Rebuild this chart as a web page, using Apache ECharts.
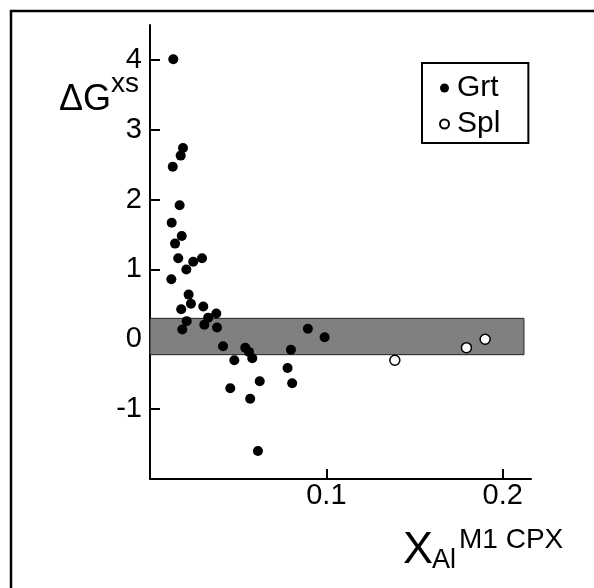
<!DOCTYPE html>
<html>
<head>
<meta charset="utf-8">
<script src="https://cdn.jsdelivr.net/npm/echarts@6/dist/echarts.min.js"></script>
<style>
  html, body { margin: 0; padding: 0; background: #fff; }
  #chart { width: 594px; height: 588px; }
</style>
</head>
<body>
<div id="chart"></div>
<script>
// Grt points (filled) and Spl points (open)
var grtX = [0.0132, 0.0187, 0.0174, 0.0129, 0.0168, 0.0123, 0.0180, 0.0142, 0.0160, 0.0245,
            0.0295, 0.0206, 0.0121, 0.0219, 0.0232, 0.0177, 0.0302, 0.0376, 0.0330, 0.0208,
            0.0308, 0.0183, 0.0380, 0.0895, 0.0990, 0.0414, 0.0540, 0.0561, 0.0799, 0.0478,
            0.0580, 0.0780, 0.0622, 0.0806, 0.0455, 0.0568, 0.0612];
var grtY = [4.01, 2.74, 2.63, 2.47, 1.92, 1.67, 1.48, 1.37, 1.16, 1.11,
            1.16, 1.00, 0.86, 0.64, 0.51, 0.43, 0.47, 0.37, 0.31, 0.26,
            0.21, 0.14, 0.17, 0.15, 0.03, -0.10, -0.12, -0.18, -0.15, -0.30,
            -0.27, -0.41, -0.60, -0.63, -0.70, -0.85, -1.60];
var splX = [0.1388, 0.1794, 0.1900];
var splY = [-0.30, -0.12, 0.00];

// grey band
var bandX = [0, 0.212];
var bandY = [-0.22, 0.30];

var yTicks = [-1, 0, 1, 2, 3, 4];
var xTicks = [0.1, 0.2];

var FONT = "'Liberation Sans', Arial, sans-serif";

function zip(a, b) {
  return a.map(function (v, i) { return [v, b[i]]; });
}

var chart = echarts.init(document.getElementById('chart'));
chart.setOption({
  animation: false,
  backgroundColor: '#fff',
  grid: { left: 150, right: 63, top: 25, bottom: 109, outerBoundsMode: 'none' },
  xAxis: {
    type: 'value',
    min: 0,
    max: 0.216,
    splitLine: { show: false },
    axisLine: { show: true, onZero: false, lineStyle: { color: '#000', width: 2 } },
    axisTick: { show: true, inside: true, length: 10, customValues: xTicks, lineStyle: { color: '#000', width: 2 } },
    axisLabel: { customValues: xTicks, margin: 2, color: '#000', fontSize: 29, fontFamily: FONT }
  },
  yAxis: {
    type: 'value',
    min: -2,
    max: 4.5,
    splitLine: { show: false },
    axisLine: { show: true, onZero: false, lineStyle: { color: '#000', width: 2 } },
    axisTick: { show: true, inside: true, length: 10, customValues: yTicks, lineStyle: { color: '#000', width: 2 } },
    axisLabel: { customValues: yTicks, margin: 8, color: '#000', fontSize: 29, fontFamily: FONT }
  },
  legend: {
    orient: 'vertical',
    left: 422,
    top: 63,
    padding: [10, 28, 4, 17],
    itemGap: 6,
    itemWidth: 9,
    itemHeight: 9,
    borderColor: '#000',
    borderWidth: 2,
    textStyle: { color: '#000', fontSize: 30, lineHeight: 28, fontFamily: FONT, padding: [0, 0, 0, 3] },
    data: [
      { name: 'Grt', icon: 'circle' },
      { name: 'Spl', icon: 'circle' }
    ]
  },
  series: [
    {
      name: 'Grt',
      type: 'scatter',
      symbolSize: 10,
      itemStyle: { color: '#000', opacity: 1 },
      data: zip(grtX, grtY),
      z: 3,
      markArea: {
        silent: true,
        itemStyle: { color: '#808080', opacity: 1, borderColor: '#222', borderWidth: 1 },
        data: [[{ coord: [bandX[0], bandY[0]] }, { coord: [bandX[1], bandY[1]] }]]
      }
    },
    {
      name: 'Spl',
      type: 'scatter',
      symbolSize: 10,
      itemStyle: { color: '#fff', opacity: 1, borderColor: '#000', borderWidth: 1.5 },
      data: zip(splX, splY),
      z: 3
    }
  ],
  graphic: [
    { type: 'rect', shape: { x: 11, y: 11, width: 700, height: 700 }, style: { fill: 'none', stroke: '#000', lineWidth: 2.5 }, silent: true },
    { type: 'text', style: { text: 'ΔG', x: 59, y: 100, fontSize: 36, fontFamily: FONT, fill: '#000', align: 'left', verticalAlign: 'middle' } },
    { type: 'text', style: { text: 'xs', x: 111, y: 84, fontSize: 28, fontFamily: FONT, fill: '#000', align: 'left', verticalAlign: 'middle' } },
    { type: 'text', style: { text: 'X', x: 403, y: 551, fontSize: 45, fontFamily: FONT, fill: '#000', align: 'left', verticalAlign: 'middle' } },
    { type: 'text', style: { text: 'Al', x: 432, y: 561, fontSize: 27, fontFamily: FONT, fill: '#000', align: 'left', verticalAlign: 'middle' } },
    { type: 'text', style: { text: 'M1 CPX', x: 459, y: 540, fontSize: 28, fontFamily: FONT, fill: '#000', align: 'left', verticalAlign: 'middle' } }
  ]
});
</script>
</body>
</html>
